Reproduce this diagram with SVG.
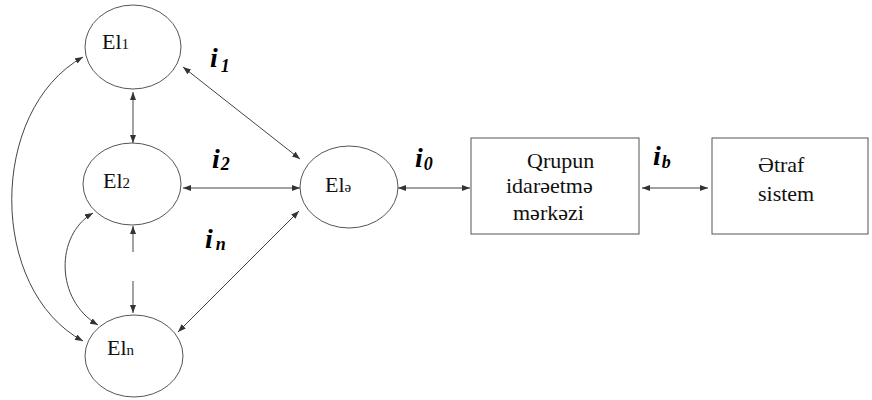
<svg xmlns="http://www.w3.org/2000/svg" width="872" height="400" viewBox="0 0 872 400">
<defs>
<marker id="arr" markerUnits="userSpaceOnUse" markerWidth="8" markerHeight="6" refX="8" refY="3" orient="auto-start-reverse">
<path d="M0,0 L8,3 L0,6 z" fill="#333"/>
</marker>
<style>
.node{fill:#fff;stroke:#555;stroke-width:1}
.t{font-family:'Liberation Serif','DejaVu Serif',serif;font-size:22px;fill:#111}
.sm{font-size:15px}
.lbl{font-family:'Liberation Serif','DejaVu Serif',serif;font-size:28px;font-weight:bold;font-style:italic;fill:#000}
.sub{font-size:18px}
.c{fill:none;stroke:#444;stroke-width:1;marker-start:url(#arr);marker-end:url(#arr)}
</style>
</defs>
<rect width="872" height="400" fill="#fff"/>
<g id="connectors">
<path class="c" d="M133 92 V143"/>
<path class="c" d="M133 226 V252 M133 281 V313"/>
<path class="c" d="M183 67 L300 159"/>
<path class="c" d="M183 188 H300"/>
<path class="c" d="M178 332 L299 211"/>
<path class="c" d="M83 57 C-12 110,-12 290,83 341"/>
<path class="c" d="M93 213 C55 235,55 300,98 325"/>
<path class="c" d="M398 188 H470"/>
<path class="c" d="M642 188 H708"/>
</g>
<g id="El1">
<ellipse class="node" cx="133" cy="47" rx="48" ry="42"/>
<text class="t" x="102" y="49">El<tspan class="sm">1</tspan></text>
</g>
<g id="El2">
<ellipse class="node" cx="132" cy="184" rx="49" ry="41"/>
<text class="t" x="103" y="188">El<tspan class="sm">2</tspan></text>
</g>
<g id="Eln">
<ellipse class="node" cx="134" cy="356" rx="49" ry="41"/>
<text class="t" x="107" y="355">El<tspan class="sm">n</tspan></text>
</g>
<g id="Ele">
<ellipse class="node" cx="349" cy="187" rx="49" ry="41"/>
<text class="t" x="325" y="192">El<tspan class="sm">ə</tspan></text>
</g>
<g id="Qrupun">
<rect class="node" x="471" y="138" width="168" height="96"/>
<text class="t" x="527" y="168">Qrupun</text>
<text class="t" x="506" y="193">idarəetmə</text>
<text class="t" x="513" y="220">mərkəzi</text>
</g>
<g id="Etraf">
<rect class="node" x="712" y="138" width="156" height="96"/>
<text class="t" x="758" y="172">Ətraf</text>
<text class="t" x="758" y="201">sistem</text>
</g>
<g id="labels">
<text class="lbl" x="210" y="67">i<tspan class="sub" dx="3" dy="5">1</tspan></text>
<text class="lbl" x="212" y="168">i<tspan class="sub" dx="1" dy="2">2</tspan></text>
<text class="lbl" x="205" y="248">i<tspan class="sub" dx="3" dy="2">n</tspan></text>
<text class="lbl" x="415" y="167">i<tspan class="sub" dx="1" dy="3">0</tspan></text>
<text class="lbl" x="653" y="165">i<tspan class="sub" dx="1" dy="3">b</tspan></text>
</g>
</svg>
